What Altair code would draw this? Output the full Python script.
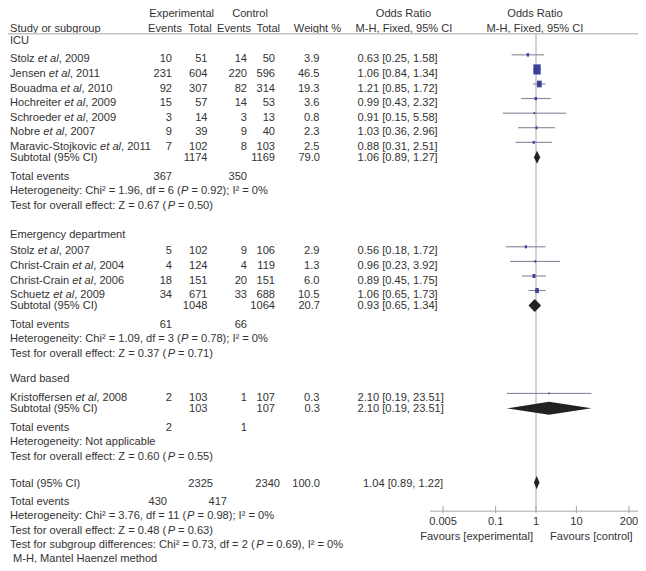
import altair as alt
import pandas as pd

# ---------------- data ----------------
icu_name = ["Stolz", "Jensen", "Bouadma", "Hochreiter", "Schroeder", "Nobre", "Maravic-Stojkovic"]
icu_year = ["2009", "2011", "2010", "2009", "2009", "2007", "2011"]
icu_e_ev = [10, 231, 92, 15, 3, 9, 7]
icu_e_n = [51, 604, 307, 57, 14, 39, 102]
icu_c_ev = [14, 220, 82, 14, 3, 9, 8]
icu_c_n = [50, 596, 314, 53, 13, 40, 103]
icu_w = [3.9, 46.5, 19.3, 3.6, 0.8, 2.3, 2.5]
icu_or = [0.63, 1.06, 1.21, 0.99, 0.91, 1.03, 0.88]
icu_lo = [0.25, 0.84, 0.85, 0.43, 0.15, 0.36, 0.31]
icu_hi = [1.58, 1.34, 1.72, 2.32, 5.58, 2.96, 2.51]

ed_name = ["Stolz", "Christ-Crain", "Christ-Crain", "Schuetz"]
ed_year = ["2007", "2004", "2006", "2009"]
ed_e_ev = [5, 4, 18, 34]
ed_e_n = [102, 124, 151, 671]
ed_c_ev = [9, 4, 20, 33]
ed_c_n = [106, 119, 151, 688]
ed_w = [2.9, 1.3, 6.0, 10.5]
ed_or = [0.56, 0.96, 0.89, 1.06]
ed_lo = [0.18, 0.23, 0.45, 0.65]
ed_hi = [1.72, 3.92, 1.75, 1.73]

ward_name = ["Kristoffersen"]
ward_year = ["2008"]
ward_e_ev = [2]
ward_e_n = [103]
ward_c_ev = [1]
ward_c_n = [107]
ward_w = [0.3]
ward_or = [2.10]
ward_lo = [0.19]
ward_hi = [23.51]

sub_label = ["ICU", "Emergency department", "Ward based"]
sub_e_n = [1174, 1048, 103]
sub_c_n = [1169, 1064, 107]
sub_w = [79.0, 20.7, 0.3]
sub_or = [1.06, 0.93, 2.10]
sub_lo = [0.89, 0.65, 0.19]
sub_hi = [1.27, 1.34, 23.51]
sub_e_ev = [367, 61, 2]
sub_c_ev = [350, 66, 1]
sub_chi2 = ["1.96", "1.09", None]
sub_df = ["6", "3", None]
sub_p_het = ["0.92", "0.78", None]
sub_i2 = ["0", "0", None]
sub_z = ["0.67", "0.37", "0.60"]
sub_p = ["0.50", "0.71", "0.55"]

tot_e_n, tot_c_n, tot_w = 2325, 2340, 100.0
tot_or, tot_lo, tot_hi = 1.04, 0.89, 1.22
tot_e_ev, tot_c_ev = 430, 417
tot_chi2, tot_df, tot_p_het, tot_i2 = "3.76", "11", "0.98", "0"
tot_z, tot_p = "0.48", "0.63"
diff_chi2, diff_df, diff_p, diff_i2 = "0.73", "2", "0.69", "0"

axis_ticks = [0.005, 0.1, 1, 10, 200]
axis_labels = ["0.005", "0.1", "1", "10", "200"]

# ---------------- style / layout ----------------
FONT = "Liberation Sans"
FS = 11.1
TXT = "#333333"
SQ = "#3b409c"
CI_COL = "#7a7a90"
DIA = "#222222"
GRID = "#a8a8a8"
HDR_LINE = "#c4c4c4"
BASE = 4.0          # baseline offset from visual centre of a text line
STUDY_DY = -3.8     # study markers sit slightly above their text line
DIA_H = 6.7         # half height of summary diamonds

W_CH, H_CH = 630, 555
REF_H = 571

# Arial / Liberation Sans advance widths (per 1000 em)
AW = {}
for chars, w in [
    ("ABEKPSVXY", 667), ("CDHNRUw", 722), ("FTZ", 611), ("GOQ", 778), ("I", 278),
    ("J", 500), ("L", 556), ("M", 833), ("W", 944),
    ("abdeghnopqu0123456789", 556), ("cksvxyz", 500), ("il", 222),
    ("m", 833), ("r", 333), (" .,:;[]ft", 278), ("()-", 333), ("=", 584), ("%", 889), ("²", 333),
]:
    for c in chars:
        AW[c] = w
AW["j"] = 222


def tw(s):
    return sum(AW.get(c, 556) for c in s) * FS / 1000.0


items = []


def add(x, y, t, align="left", style="normal"):
    items.append(dict(x=x, yb=y + BASE, t=str(t), align=align, style=style))


def add_rich(x, y, segs):
    cur = x
    for t, st in segs:
        lead = len(t) - len(t.lstrip(" "))
        s = t.strip(" ")
        if s:
            add(cur + tw(t[:lead]), y, s, "left", st)
        cur += tw(t)


def ci_text(o, l, h):
    return f"{o:.2f} [{l:.2f}, {h:.2f}]"


# column anchors (reference pixels)
X_NAME = 10
X_EEV, X_EN, X_CEV, X_CN, X_W, X_OR = 172, 207.5, 247, 275, 319.5, 357.5

# headers
add(181.7, 5, "Experimental", "center")
add(250, 5, "Control", "center")
add(403.5, 5, "Odds Ratio", "center")
add(535, 5, "Odds Ratio", "center")
add(X_NAME, 20.5, "Study or subgroup")
add(165, 20.5, "Events", "center")
add(200, 20.5, "Total", "center")
add(234, 20.5, "Events", "center")
add(268.3, 20.5, "Total", "center")
add(317.5, 20.5, "Weight %", "center")
add(404, 20.5, "M-H, Fixed, 95% CI", "center")
add(535, 20.5, "M-H, Fixed, 95% CI", "center")
HDR_Y = 26.5

groups = [
    (icu_name, icu_year, icu_e_ev, icu_e_n, icu_c_ev, icu_c_n, icu_w, icu_or, icu_lo, icu_hi),
    (ed_name, ed_year, ed_e_ev, ed_e_n, ed_c_ev, ed_c_n, ed_w, ed_or, ed_lo, ed_hi),
    (ward_name, ward_year, ward_e_ev, ward_e_n, ward_c_ev, ward_c_n, ward_w, ward_or, ward_lo, ward_hi),
]
group_y = [33.5, 232.5, 380.5]
first_gap = [18.5, 17.0, 19.8]

study_rows = []
dia_rows = []

for g, (nm, yr, eev, en, cev, cn, w, o, lo, hi) in enumerate(groups):
    y = group_y[g]
    add(X_NAME, y, sub_label[g])
    y += first_gap[g]
    for i in range(len(nm)):
        add_rich(X_NAME, y, [(nm[i] + " ", "normal"), ("et al", "italic"), (", " + yr[i], "normal")])
        add(X_EEV, y, eev[i], "right")
        add(X_EN, y, en[i], "right")
        add(X_CEV, y, cev[i], "right")
        add(X_CN, y, cn[i], "right")
        add(X_W, y, f"{w[i]:.1f}", "right")
        add(X_OR, y, ci_text(o[i], lo[i], hi[i]))
        study_rows.append(dict(o=o[i], lo=lo[i], hi=hi[i], w=w[i], yf=y + STUDY_DY))
        if i < len(nm) - 1:
            y += 15
    y += 11.6
    add(X_NAME, y, "Subtotal (95% CI)")
    add(X_EN, y, sub_e_n[g], "right")
    add(X_CN, y, sub_c_n[g], "right")
    add(X_W + 0.5, y, f"{sub_w[g]:.1f}", "right")
    add(X_OR, y, ci_text(sub_or[g], sub_lo[g], sub_hi[g]))
    for xv, y1, y2 in [(sub_lo[g], y, y), (sub_or[g], y - DIA_H, y + DIA_H), (sub_hi[g], y, y)]:
        dia_rows.append(dict(id=f"g{g}", x=xv, ya=y1, yb=y2))
    y += 19
    add(X_NAME, y, "Total events")
    add(X_EEV, y, sub_e_ev[g], "right")
    add(X_CEV, y, sub_c_ev[g], "right")
    y += 15
    if sub_chi2[g] is None:
        add(X_NAME, y, "Heterogeneity: Not applicable")
    else:
        add_rich(X_NAME, y, [
            (f"Heterogeneity: Chi² = {sub_chi2[g]}, df = {sub_df[g]} (", "normal"), ("P", "italic"),
            (f" = {sub_p_het[g]}); I² = {sub_i2[g]}%", "normal")])
    y += 15.3
    add_rich(X_NAME, y, [(f"Test for overall effect: Z = {sub_z[g]} (", "normal"), ("P", "italic"),
                         (f" = {sub_p[g]})", "normal")])

# overall
y = 488.3
add(X_NAME, y, "Total (95% CI)")
add(213, y, tot_e_n, "right")
add(280, y, tot_c_n, "right")
add(320, y, f"{tot_w:.1f}", "right")
add(363, y, ci_text(tot_or, tot_lo, tot_hi))
for xv, y1, y2 in [(tot_lo, y, y), (tot_or, y - DIA_H, y + DIA_H), (tot_hi, y, y)]:
    dia_rows.append(dict(id="tot", x=xv, ya=y1, yb=y2))
y += 18.7
add(X_NAME, y, "Total events")
add(167, y, tot_e_ev, "right")
add(227, y, tot_c_ev, "right")
y += 15
add_rich(X_NAME, y, [(f"Heterogeneity: Chi² = {tot_chi2}, df = {tot_df} (", "normal"), ("P", "italic"),
                     (f" = {tot_p_het}); I² = {tot_i2}%", "normal")])
y += 15
add_rich(X_NAME, y, [(f"Test for overall effect: Z = {tot_z} (", "normal"), ("P", "italic"),
                     (f" = {tot_p})", "normal")])
y += 15
add_rich(X_NAME, y, [(f"Test for subgroup differences: Chi² = {diff_chi2}, df = {diff_df} (", "normal"),
                     ("P", "italic"), (f" = {diff_p}), I² = {diff_i2}%", "normal")])
y += 14
add(13, y, "M-H, Mantel Haenzel method")

# axis texts
AX_Y = 517.7
add(533, 543.3, "Favours [experimental]", "right")
add(550, 543.3, "Favours [control]", "left")

txt = pd.DataFrame(items)
studies = pd.DataFrame(study_rows)
dia = pd.DataFrame(dia_rows)

# ---------------- scales ----------------
XT = alt.Scale(domain=[8, 8 + W_CH], range=[0, W_CH], zero=False, nice=False)
YS = alt.Scale(domain=[0, REF_H], range=[0, H_CH], zero=False, nice=False)
PX_DEC = 93 / 2.30103
HALF = 106 / PX_DEC
XL = alt.Scale(type="log", domain=[10 ** (-HALF), 10 ** HALF], range=[536 - 106 - 8, 536 + 106 - 8], nice=False)

layers = []
for (al, st), sub in txt.groupby(["align", "style"]):
    layers.append(
        alt.Chart(sub).mark_text(align=al, baseline="alphabetic", font=FONT, fontSize=FS,
                                 fontStyle=st, color=TXT).encode(
            x=alt.X("x:Q", scale=XT, axis=None),
            y=alt.Y("yb:Q", scale=YS, axis=None),
            text="t:N")
    )

hdr = pd.DataFrame({"x": [8], "x2": [8 + W_CH], "y": [HDR_Y]})
layers.append(alt.Chart(hdr).mark_rule(color=HDR_LINE, strokeWidth=1.5).encode(
    x=alt.X("x:Q", scale=XT, axis=None), x2="x2:Q", y=alt.Y("y:Q", scale=YS, axis=None)))

vline = pd.DataFrame({"x": [1.0], "y": [HDR_Y], "y2": [AX_Y]})
layers.append(alt.Chart(vline).mark_rule(color=GRID, strokeWidth=1).encode(
    x=alt.X("x:Q", scale=XL, axis=None), y=alt.Y("y:Q", scale=YS, axis=None), y2="y2:Q"))

layers.append(alt.Chart(studies).mark_rule(color=CI_COL, strokeWidth=1).encode(
    x=alt.X("lo:Q", scale=XL, axis=None), x2="hi:Q", y=alt.Y("yf:Q", scale=YS, axis=None)))

RECT = "M-0.72,-1L0.72,-1L0.72,1L-0.72,1Z"
layers.append(alt.Chart(studies).mark_point(shape=RECT, filled=True, color=SQ, opacity=1).encode(
    x=alt.X("o:Q", scale=XL, axis=None), y=alt.Y("yf:Q", scale=YS, axis=None),
    size=alt.Size("w:Q", scale=alt.Scale(domain=[0, 50], range=[3, 110]), legend=None)))

layers.append(alt.Chart(dia).mark_area(color=DIA, orient="vertical", opacity=1).encode(
    x=alt.X("x:Q", scale=XL, axis=None), y=alt.Y("ya:Q", scale=YS, axis=None, stack=False),
    y2="yb:Q", detail="id:N"))

axl = pd.DataFrame({"x": [10 ** (-HALF)], "x2": [10 ** HALF], "y": [AX_Y]})
layers.append(alt.Chart(axl).mark_rule(color=GRID, strokeWidth=1).encode(
    x=alt.X("x:Q", scale=XL, axis=None), x2="x2:Q", y=alt.Y("y:Q", scale=YS, axis=None)))

ticks = pd.DataFrame({"v": axis_ticks, "lab": axis_labels, "y": [AX_Y - 5.5] * 5, "y2": [AX_Y + 2] * 5,
                      "yl": [528.3 + BASE] * 5})
layers.append(alt.Chart(ticks).mark_rule(color=GRID, strokeWidth=1).encode(
    x=alt.X("v:Q", scale=XL, axis=None), y=alt.Y("y:Q", scale=YS, axis=None), y2="y2:Q"))
layers.append(alt.Chart(ticks).mark_text(align="center", baseline="alphabetic", font=FONT, fontSize=FS,
                                         color=TXT).encode(
    x=alt.X("v:Q", scale=XL, axis=None), y=alt.Y("yl:Q", scale=YS, axis=None), text="lab:N"))

chart = alt.layer(*layers).resolve_scale(x="independent").properties(
    width=W_CH, height=H_CH, padding=0, autosize=alt.AutoSizeParams(type="none"),
    background="white"
).configure_view(strokeWidth=0)

chart.save("out.html", embed_options={"renderer": "svg", "actions": False})
